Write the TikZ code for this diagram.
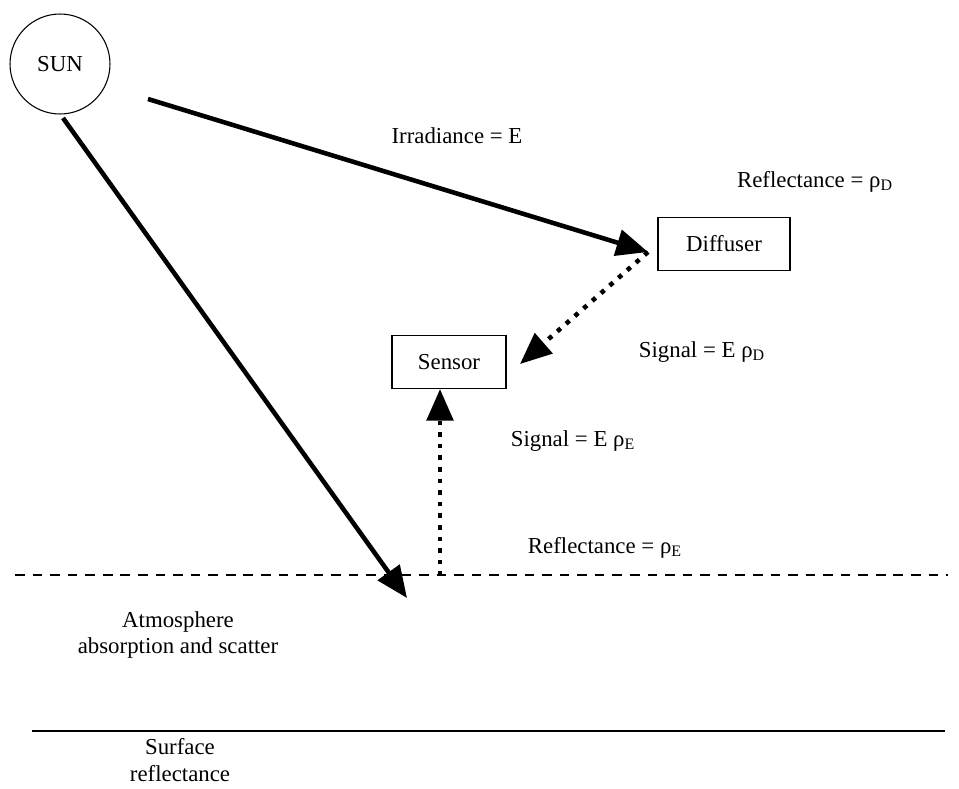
\documentclass[tikz,border=0pt]{standalone}
\usepackage{fontspec}
\setmainfont{Liberation Serif}
\usetikzlibrary{arrows.meta, positioning}
\tikzstyle{ray}=[line width=2.6pt, -{Triangle[length=18pt,width=15pt]}]
\tikzstyle{signal}=[line width=2.6pt, dash pattern=on 2.6pt off 4pt, -{Triangle[length=18pt,width=15pt]}]
\tikzstyle{device}=[draw, line width=0.6pt, minimum width=2.64cm, minimum height=1.06cm]
\tikzstyle{lbl}=[font=\fontsize{13}{15}\selectfont, align=center]

\begin{document}
\begin{tikzpicture}[x=0.02cm, y=-0.02cm, lbl]
  \useasboundingbox (0,0) rectangle (959,788);
  \node[draw, circle, line width=0.6pt, minimum size=2cm, inner sep=0pt] (sun) at (60,64) {SUN};
  \node[device] (diffuser) at (724,244) {Diffuser};
  \node[device, minimum width=2.28cm] (sensor) at (449,362) {Sensor};
  \coordinate (irr) at (148,99);
  \coordinate (sunfoot) at (63,118);
  \coordinate (dif) at (648,252);
  \coordinate (sen) at (520,364);
  \coordinate (gnd) at (407,598);
  \coordinate (up) at (440,576);
  \coordinate (dl) at (15,575);
  \coordinate (dr) at (948,575);
  \coordinate (sl) at (32,731);
  \coordinate (sr) at (945,731);
  \draw[ray] (irr) -- (dif);
  \draw[ray] (sunfoot) -- (gnd);
  \draw[signal] (dif) -- (sen);
  \draw[signal] (up) -- (sensor.south -| up);
  \draw[line width=0.8pt, dash pattern=on 5.5pt off 4.5pt] (dl) -- (dr);
  \draw[line width=0.8pt] (sl) -- (sr);
  \node (irrlbl) at (457,136) {Irradiance = E};
  \node (reflD) at (815,182) {Reflectance = ρ\textsubscript{D}};
  \node (sigD) at (702,352) {Signal = E ρ\textsubscript{D}};
  \node (sigE) at (573,441) {Signal = E ρ\textsubscript{E}};
  \node (reflE) at (605,548) {Reflectance = ρ\textsubscript{E}};
  \node (atmo) at (178,635) {Atmosphere\\absorption and scatter};
  \node[inner sep=0pt] (surf) at (180,760) {Surface\\reflectance};
\end{tikzpicture}
\end{document}
